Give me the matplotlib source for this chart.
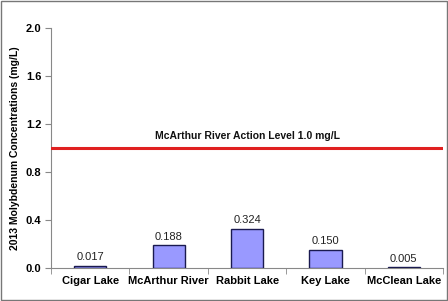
import numpy as np
import matplotlib
matplotlib.use('Agg')
import matplotlib.pyplot as plt
from matplotlib.patches import Rectangle

plt.rcParams['font.family'] = ['Liberation Sans', 'DejaVu Sans']

sites = ['Cigar Lake', 'McArthur River', 'Rabbit Lake', 'Key Lake', 'McClean Lake']
values = [0.017, 0.188, 0.324, 0.150, 0.005]
labels = ['0.017', '0.188', '0.324', '0.150', '0.005']
action_level = 1.0
yticks = [0.0, 0.4, 0.8, 1.2, 1.6, 2.0]

fig = plt.figure(figsize=(4.48, 3.01), dpi=100)
ax = fig.add_axes([0.114, 0.110, 0.875, 0.797])

x = np.arange(len(sites))
ax.bar(x, values, width=0.41, color='#9999FF', edgecolor='#1a1a50', linewidth=1.0, zorder=3)
for xi, v, lab in zip(x, values, labels):
    ax.text(xi, v + 0.03, lab, ha='center', va='bottom', fontsize=8, color='#222222')

ax.axhline(action_level, color='#E02020', linewidth=2.2, zorder=4)
ax.text(2.0, 1.1, 'McArthur River Action Level 1.0 mg/L', ha='center', va='center',
        fontsize=7.5, fontweight='bold', color='#111111')

ax.set_xlim(-0.5, len(sites) - 0.5)
ax.set_ylim(0, 2.0)
ax.set_yticks(yticks)
ax.set_yticklabels(['%.1f' % t for t in yticks], fontsize=8, fontweight='bold')
ax.set_xticks(x)
ax.set_xticklabels(sites, fontsize=8, fontweight='bold')
ax.set_xticks(np.arange(len(sites) + 1) - 0.5, minor=True)
ax.tick_params(axis='x', which='major', length=0, pad=6)
ax.tick_params(axis='x', which='minor', length=4, color='#888888')
ax.tick_params(axis='y', length=4, color='#888888', pad=3)
ax.set_ylabel('2013 Molybdenum Concentrations (mg/L)', fontsize=7.5, fontweight='bold', labelpad=4)

for s in ['top', 'right']:
    ax.spines[s].set_visible(False)
for s in ['left', 'bottom']:
    ax.spines[s].set_color('#888888')

fig.patches.append(Rectangle((0.002, 0.003), 0.995, 0.994, transform=fig.transFigure,
                             fill=False, edgecolor='#777777', linewidth=1.0))

fig.savefig('out.png', dpi=100)
